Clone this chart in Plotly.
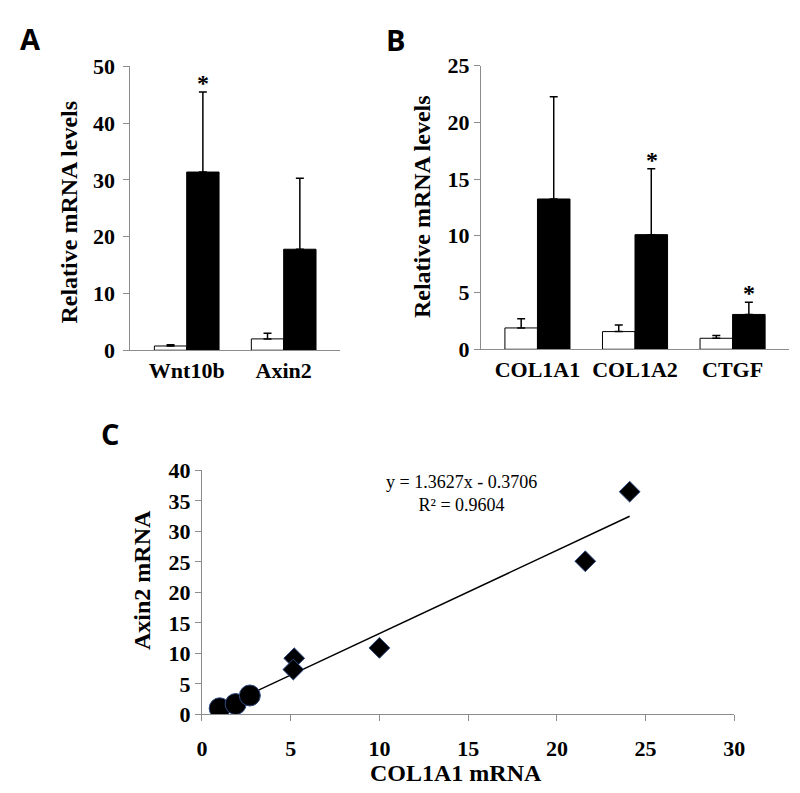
import plotly.graph_objects as go

# Panel A
genes_a = ['Wnt10b', 'Axin2']
ctrl_a = [0.75, 2.0]
ctrl_a_err = [0.22, 1.0]
treat_a = [31.4, 17.8]
treat_a_err = [14.1, 12.5]
star_a = ['Wnt10b']

# Panel B
genes_b = ['COL1A1', 'COL1A2', 'CTGF']
ctrl_b = [1.88, 1.56, 0.97]
ctrl_b_err = [0.82, 0.57, 0.25]
treat_b = [13.24, 10.1, 3.07]
treat_b_err = [9.0, 5.8, 1.08]
star_b = ['COL1A2', 'CTGF']

# Panel C
circ_x = [1.0, 1.9, 2.7]
circ_y = [1.0, 1.7, 3.1]
diam_x = [5.2, 5.15, 10.0, 21.6, 24.1]
diam_y = [9.2, 7.35, 10.9, 25.1, 36.5]
slope = 1.3627
intercept = -0.3706
eq_text = 'y = 1.3627x - 0.3706<br>R² = 0.9604'

W, H = 800, 793
SERIF = 'Liberation Serif'
AXCOL = '#8c8c8c'


def px_x(a, b):
    return [a / W, b / W]


def px_y(top, bottom):
    return [1 - bottom / H, 1 - top / H]


def bar_pair(fig, cats, c, ce, t, te, xa, ya):
    fig.add_trace(go.Bar(
        x=cats, y=c, xaxis=xa, yaxis=ya,
        marker=dict(color='white', line=dict(color='black', width=1)),
        error_y=dict(type='data', symmetric=False, array=ce, arrayminus=[0] * len(ce),
                     color='black', thickness=1.5, width=4),
        showlegend=False
    ))
    fig.add_trace(go.Bar(
        x=cats, y=t, xaxis=xa, yaxis=ya,
        marker=dict(color='black', line=dict(color='black', width=1)),
        error_y=dict(type='data', symmetric=False, array=te, arrayminus=[0] * len(te),
                     color='black', thickness=1.5, width=4),
        showlegend=False
    ))


fig = go.Figure()
bar_pair(fig, genes_a, ctrl_a, ctrl_a_err, treat_a, treat_a_err, 'x', 'y')
bar_pair(fig, genes_b, ctrl_b, ctrl_b_err, treat_b, treat_b_err, 'x2', 'y2')

# Trendline (Excel linear fit) over the data span
all_x = circ_x + diam_x
xs = [min(all_x), max(all_x)]
fig.add_trace(go.Scatter(
    x=xs, y=[slope * v + intercept for v in xs], xaxis='x3', yaxis='y3',
    mode='lines', line=dict(color='black', width=1.5), showlegend=False
))
fig.add_trace(go.Scatter(
    x=diam_x, y=diam_y, xaxis='x3', yaxis='y3', mode='markers',
    marker=dict(symbol='diamond', size=16, color='black', line=dict(color='#2d4a80', width=1)),
    showlegend=False
))
fig.add_trace(go.Scatter(
    x=circ_x, y=circ_y, xaxis='x3', yaxis='y3', mode='markers',
    marker=dict(symbol='circle', size=21, color='black', line=dict(color='#2d4a80', width=1)),
    showlegend=False
))

tickfont = dict(family=SERIF, size=22, color='black', weight='bold')
base_ax = dict(showline=True, linecolor=AXCOL, linewidth=1, showgrid=False, zeroline=False,
               tickfont=tickfont, tickcolor=AXCOL, ticklen=6)

annotations = []
for t, x, y in [('A', 17, 19), ('B', 390, 20), ('C', 98, 427)]:
    annotations.append(dict(text=t, x=x / W, y=1 - y / H, xref='paper', yref='paper',
                            showarrow=False, xanchor='center', yanchor='middle',
                            font=dict(family='Open Sans', size=29, color='black', weight='bold')))

titlefont = dict(family=SERIF, size=24, color='black', weight='bold')
for t, x, y, ang in [('Relative mRNA levels', 56, 198, -90),
                     ('Relative mRNA levels', 417, 193, -90),
                     ('Axin2 mRNA', 131, 578, -90),
                     ('COL1A1 mRNA', 452, 777, 0)]:
    annotations.append(dict(text=t, x=x / W, y=1 - y / H, xref='paper', yref='paper',
                            showarrow=False, xanchor='center', yanchor='middle',
                            textangle=ang, font=titlefont))

annotations.append(dict(text=eq_text, x=457 / W, y=1 - 489 / H, xref='paper', yref='paper',
                        showarrow=False, xanchor='center', yanchor='middle', align='center',
                        font=dict(family=SERIF, size=18, color='black')))

# significance stars above treated bars
for cats, t, te, xr, yr in [(genes_a, treat_a, treat_a_err, 'x', 'y'),
                            (genes_b, treat_b, treat_b_err, 'x2', 'y2')]:
    stars = star_a if xr == 'x' else star_b
    for i, cat in enumerate(cats):
        if cat in stars:
            annotations.append(dict(text='*', x=cat, y=t[i] + te[i], xref=xr, yref=yr,
                                    showarrow=False, xanchor='center', yanchor='bottom',
                                    xshift=16.5, yshift=-6,
                                    font=dict(family=SERIF, size=24, color='black', weight='bold')))

fig.update_layout(
    width=W, height=H,
    margin=dict(l=0, r=0, t=0, b=0),
    paper_bgcolor='white', plot_bgcolor='white',
    barmode='group', bargap=0.333, bargroupgap=0,
    xaxis=dict(base_ax, domain=px_x(119, 333), range=[-0.58, 1.58], ticks='', anchor='y'),
    yaxis=dict(base_ax, domain=px_y(48, 341), range=[0, 50], dtick=10, ticks='outside', anchor='x',
               ticklabelstandoff=4),
    xaxis2=dict(base_ax, domain=px_x(477, 792), range=[-0.58, 2.58], ticks='', anchor='y2'),
    yaxis2=dict(base_ax, domain=px_y(47, 340), range=[0, 25], dtick=5, ticks='outside', anchor='x2'),
    xaxis3=dict(base_ax, domain=px_x(192, 736), range=[0, 30], dtick=5, ticks='outside', anchor='y3',
                ticklabelstandoff=8),
    yaxis3=dict(base_ax, domain=px_y(465, 717), range=[0, 40], dtick=5, ticks='outside', anchor='x3'),
    annotations=annotations,
)

fig.write_html('out.html')
